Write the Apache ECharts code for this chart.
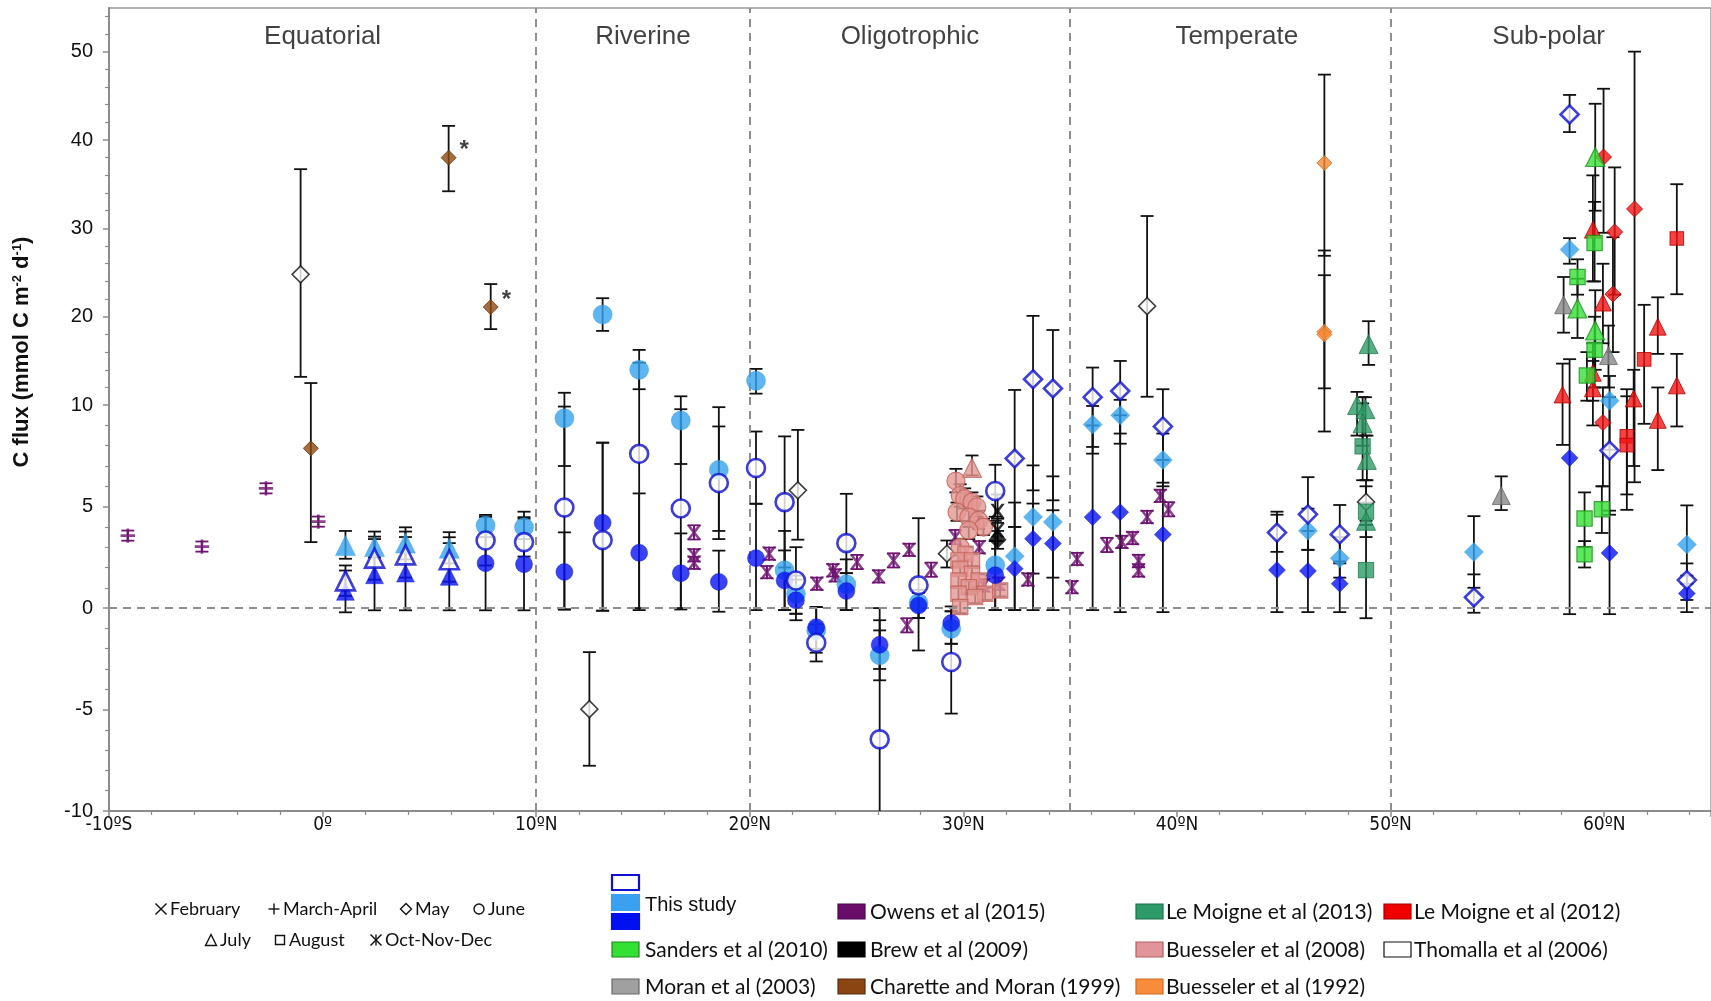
<!DOCTYPE html>
<html>
<head>
<meta charset="utf-8">
<script src="https://cdn.jsdelivr.net/npm/echarts@6/dist/echarts.min.js"></script>
<style>
html, body { margin: 0; background: #fff; }
#chart { width: 1711px; height: 1001px; }
</style>
</head>
<body>
<div id="chart"></div>
<script>
// rows: [latitude (deg, S negative), C flux, error low, error high, month]
const thisStudyLight = [
  [1.07, 3.08, 2.43, 3.8, 'Jul'], [2.43, 3.03, 2.5, 3.77, 'Jul'], [3.88, 3.2, 2.4, 3.98, 'Jul'],
  [5.93, 2.95, 2.2, 3.74, 'Jul'], [7.63, 4.07, 3.5, 4.59, 'Jun'], [9.43, 3.98, 3.4, 4.75, 'Jun'],
  [11.32, 9.35, 7.0, 11.4, 'Jun'], [13.11, 20.25, 18.4, 22.1, 'Jun'], [14.82, 14.0, 11.8, 16.25, 'Jun'],
  [16.77, 9.24, 7.1, 11.0, 'Jun'], [18.55, 6.81, 3.8, 9.9, 'Jun'], [20.29, 12.75, 11.3, 14.1, 'Jun'],
  [21.63, 1.86, -0.1, 3.8, 'Jun'], [22.16, 0.7, -0.28, 1.6, 'Jun'], [23.11, -1.1, -2.2, 0.05, 'Jun'],
  [24.52, 1.17, -0.1, 2.4, 'Jun'], [26.08, -2.33, -3.56, -1.1, 'Jun'], [27.9, 0.25, -0.49, 0.9, 'Jun'],
  [29.43, -1.02, -1.76, -0.16, 'Jun'], [31.49, 2.11, -0.1, 4.3, 'Jun'],
  [32.4, 2.55, -0.1, 5.2, 'May'], [33.26, 4.49, -0.1, 7.03, 'May'], [34.19, 4.24, -0.1, 6.49, 'May'],
  [36.05, 9.04, 7.61, 9.96, 'May'], [37.34, 9.5, 8.6, 10.6, 'May'], [39.34, 7.3, 6.0, 8.6, 'May'],
  [46.13, 3.81, 2.87, 4.9, 'May'], [47.62, 2.45, 1.5, 3.5, 'May'], [53.9, 2.76, 1.0, 4.53, 'May'],
  [58.38, 27.6, 26.0, 28.9, 'May'], [60.25, 10.5, 7.8, 13.3, 'May'], [63.87, 3.13, 1.2, 5.06, 'May']
];
const thisStudyDark = [
  [1.07, 0.82, -0.21, 1.85, 'Jul'], [2.43, 1.64, -0.11, 3.4, 'Jul'], [3.88, 1.72, -0.11, 3.5, 'Jul'],
  [5.93, 1.56, -0.11, 3.2, 'Jul'], [7.63, 2.21, -0.11, 4.5, 'Jun'], [9.43, 2.16, -0.11, 4.4, 'Jun'],
  [11.32, 1.78, -0.07, 3.73, 'Jun'], [13.11, 4.2, -0.13, 8.15, 'Jun'], [14.82, 2.72, -0.1, 5.65, 'Jun'],
  [16.77, 1.72, -0.07, 3.68, 'Jun'], [18.55, 1.29, -0.18, 2.83, 'Jun'], [20.29, 2.46, -0.1, 5.14, 'Jun'],
  [21.63, 1.36, -0.1, 2.84, 'Jun'], [22.16, 0.38, -0.6, 1.4, 'Jun'], [23.11, -0.94, -2.0, 0.05, 'Jun'],
  [24.52, 0.84, -0.1, 1.72, 'Jun'], [26.08, -1.81, -3.0, -0.6, 'Jun'], [27.9, 0.13, -0.49, 0.75, 'Jun'],
  [29.43, -0.74, -1.76, 0.08, 'Jun'], [31.49, 1.62, -0.1, 3.3, 'Jun'],
  [32.4, 1.94, -0.1, 4.0, 'May'], [33.26, 3.42, 1.7, 5.15, 'May'], [34.19, 3.18, 1.5, 4.82, 'May'],
  [36.05, 4.48, -0.1, 9.0, 'May'], [37.34, 4.72, -0.2, 9.5, 'May'], [39.34, 3.62, -0.2, 7.3, 'May'],
  [44.68, 1.87, -0.2, 4.6, 'May'], [46.13, 1.83, -0.2, 3.8, 'May'], [47.62, 1.2, -0.2, 2.2, 'May'],
  [58.38, 7.4, -0.3, 15.2, 'May'], [60.25, 2.71, -0.3, 4.8, 'May'], [63.87, 0.72, -0.2, 1.6, 'May']
];
const thisStudyOpen = [
  [1.07, 1.34, 0.6, 2.1, 'Jul'], [2.43, 2.46, 1.4, 3.52, 'Jul'], [3.88, 2.62, 1.5, 3.77, 'Jul'],
  [5.93, 2.38, 1.3, 3.49, 'Jul'], [7.63, 3.33, 2.1, 4.5, 'Jun'], [9.43, 3.25, 2.54, 4.48, 'Jun'],
  [11.32, 4.95, -0.07, 9.93, 'Jun'], [13.11, 3.35, -0.13, 8.15, 'Jun'], [14.82, 7.6, 0.0, 14.8, 'Jun'],
  [16.77, 4.91, 0.0, 9.8, 'Jun'], [18.55, 6.16, 3.4, 8.95, 'Jun'], [20.29, 6.9, 5.14, 8.7, 'Jun'],
  [21.63, 5.22, 2.0, 8.46, 'Jun'], [22.16, 1.36, -0.28, 3.0, 'Jun'], [23.11, -1.71, -2.63, -0.8, 'Jun'],
  [24.52, 3.2, 1.72, 5.63, 'Jun'], [26.08, -6.47, -12.5, 0.0, 'Jun'], [27.9, 1.12, -2.09, 4.43, 'Jun'],
  [29.43, -2.66, -5.2, -0.16, 'Jun'], [31.49, 5.77, 4.5, 7.06, 'Jun'],
  [32.4, 7.37, 4.0, 11.72, 'May'], [33.26, 12.93, 5.8, 20.1, 'May'], [34.19, 11.88, 5.31, 18.5, 'May'],
  [36.05, 10.9, 7.94, 14.25, 'May'], [37.34, 11.6, 8.1, 15.0, 'May'], [39.34, 8.95, 6.18, 11.8, 'May'],
  [44.68, 3.72, 2.77, 4.75, 'May'], [46.13, 4.62, 2.87, 6.45, 'May'], [47.62, 3.63, 2.3, 5.08, 'May'],
  [53.9, 0.53, -0.23, 1.66, 'May'], [58.38, 42.9, 40.9, 45.1, 'May'], [60.25, 7.76, 4.6, 10.9, 'May'],
  [63.87, 1.38, 0.4, 2.2, 'May']
];
// Owens: [latitude, flux, half error, month]
const owens = [
  [-9.12, 3.57, 0.25, 'MA'], [-5.65, 3.03, 0.25, 'MA'], [-2.65, 5.9, 0.25, 'MA'], [-0.2, 4.26, 0.25, 'MA'],
  [17.39, 3.73, 0.35, 'OND'], [17.39, 2.6, 0.3, 'OND'], [17.39, 2.23, 0.3, 'OND'],
  [20.91, 2.68, 0.3, 'OND'], [20.8, 1.77, 0.3, 'OND'], [23.14, 1.2, 0.3, 'OND'], [23.89, 1.86, 0.3, 'OND'],
  [24.0, 1.61, 0.3, 'OND'], [25.02, 2.27, 0.35, 'OND'], [26.03, 1.56, 0.3, 'OND'], [26.73, 2.35, 0.35, 'OND'],
  [27.46, 2.87, 0.3, 'OND'], [27.36, -0.85, 0.35, 'OND'], [28.49, 1.89, 0.35, 'OND'], [29.62, 3.5, 0.35, 'OND'],
  [30.74, 3.0, 0.3, 'OND'], [30.95, 1.12, 0.3, 'OND'], [31.65, 1.2, 0.3, 'OND'], [33.02, 1.41, 0.3, 'OND'],
  [35.08, 1.03, 0.3, 'OND'], [35.32, 2.42, 0.3, 'OND'], [36.72, 3.11, 0.35, 'OND'], [37.42, 3.26, 0.3, 'OND'],
  [37.92, 3.45, 0.3, 'OND'], [38.2, 2.32, 0.3, 'OND'], [38.2, 1.85, 0.3, 'OND'], [38.6, 4.49, 0.3, 'OND'],
  [39.22, 5.53, 0.3, 'OND'], [39.6, 4.87, 0.35, 'OND']
];
// Charette and Moran: last field marks the starred values
const charette = [
  [-0.55, 7.87, 3.25, 12.5, 'May', ''], [5.9, 38.0, 34.2, 41.6, 'May', '*'], [7.87, 21.1, 18.6, 23.7, 'May', '*']
];
const thomalla = [
  [-1.03, 24.8, 13.2, 36.7, 'May'], [12.49, -4.98, -7.77, -2.17, 'May'], [22.25, 5.8, 3.37, 8.78, 'May'],
  [29.23, 2.68, 2.0, 3.33, 'May'], [38.6, 21.2, 10.95, 31.4, 'May'], [48.85, 5.23, 4.3, 6.0, 'May']
];
const brew = [
  [31.6, 4.78, 4.2, 5.6, 'Feb'], [31.6, 3.83, 3.3, 4.4, 'Feb'], [31.6, 3.37, 2.92, 3.8, 'May']
];
const buesseler2008 = [
  [30.4, 6.91, 6.54, 7.52, 'Jul'],
  [29.65, 6.26, 5.7, 6.86, 'Jun'], [29.85, 5.55, 5.0, 6.1, 'Jun'], [30.06, 5.39, 4.9, 5.9, 'Jun'],
  [30.4, 5.22, 4.8, 5.7, 'Jun'], [30.63, 4.98, 4.5, 5.5, 'Jun'], [29.7, 4.73, 4.3, 5.2, 'Jun'],
  [30.25, 4.48, 4.0, 4.9, 'Jun'], [30.71, 4.32, 3.9, 4.8, 'Jun'], [30.94, 3.99, 3.6, 4.4, 'Jun'],
  [30.25, 3.83, 3.4, 4.3, 'Jun'], [29.85, 3.0, 2.6, 3.4, 'Jun'],
  [30.1, 2.68, 2.4, 3.0, 'Aug'], [29.77, 2.35, 2.05, 2.65, 'Aug'], [30.4, 2.35, 2.05, 2.65, 'Aug'],
  [29.85, 1.94, 1.64, 2.24, 'Aug'], [30.4, 1.69, 1.39, 1.99, 'Aug'], [29.77, 1.36, 1.06, 1.66, 'Aug'],
  [30.71, 1.36, 1.06, 1.66, 'Aug'], [30.25, 1.03, 0.73, 1.33, 'Aug'], [31.72, 0.87, 0.57, 1.17, 'Aug'],
  [29.77, 0.7, 0.4, 1.0, 'Aug'], [31.02, 0.7, 0.4, 1.0, 'Aug'], [30.55, 0.54, 0.24, 0.84, 'Aug'],
  [29.85, 0.05, -0.25, 0.35, 'Aug']
];
const leMoigne2013 = [
  [48.97, 16.9, 14.55, 19.5, 'Jul'], [48.43, 10.0, 8.5, 11.5, 'Jul'], [48.82, 9.8, 8.5, 10.9, 'Jul'],
  [48.69, 9.1, 8.0, 10.2, 'Jul'], [48.69, 7.97, 6.3, 10.9, 'Aug'], [48.89, 7.3, 6.3, 8.5, 'Jul'],
  [48.85, 4.75, 4.1, 6.3, 'Aug'], [48.85, 4.3, 3.5, 5.2, 'Jul'], [48.85, 1.87, -0.5, 4.1, 'Aug']
];
const sanders = [
  [58.75, 24.5, 22.5, 26.5, 'Aug'], [58.75, 20.95, 17.6, 24.3, 'Jul'], [59.58, 38.07, 32.0, 44.1, 'Jul'],
  [59.55, 28.34, 24.0, 33.0, 'Aug'], [59.58, 18.44, 14.0, 23.0, 'Jul'], [59.55, 16.27, 12.0, 20.0, 'Aug'],
  [59.19, 13.35, 10.5, 16.0, 'Aug'], [59.08, 4.41, 3.0, 5.7, 'Aug'], [59.08, 2.65, 2.0, 3.3, 'Aug'],
  [59.89, 4.87, 3.7, 6.0, 'Aug']
];
const moran = [
  [58.1, 21.35, 18.2, 24.5, 'Jul'], [60.2, 15.6, 12.0, 19.0, 'Jul'], [55.18, 5.54, 4.83, 6.49, 'Jul']
];
const leMoigne2012 = [
  [58.05, 11.2, 8.04, 14.7, 'Jul'], [59.97, 38.07, 29.5, 45.8, 'May'], [59.47, 29.85, 24.0, 36.0, 'Jul'],
  [60.49, 29.59, 22.5, 36.9, 'May'], [61.42, 32.2, 6.2, 50.0, 'May'], [63.4, 28.86, 22.55, 35.0, 'Aug'],
  [60.41, 22.56, 16.0, 29.0, 'May'], [59.94, 21.6, 17.0, 26.0, 'Jul'], [59.47, 13.65, 10.5, 17.0, 'Jul'],
  [59.47, 11.9, 9.0, 15.0, 'Jul'], [61.87, 15.18, 9.08, 21.35, 'Aug'], [62.51, 18.87, 15.8, 22.2, 'Jul'],
  [63.4, 12.23, 8.95, 15.8, 'Jul'], [62.51, 9.27, 6.8, 12.0, 'Jul'], [61.38, 10.75, 7.0, 14.0, 'Jul'],
  [59.94, 9.14, 6.0, 12.0, 'May'], [61.06, 8.47, 5.6, 11.8, 'Aug'], [61.06, 8.03, 4.84, 11.0, 'Aug']
];
const buesseler1992 = [
  [46.9, 37.4, 26.9, 47.4, 'May'], [46.9, 18.3, 11.9, 24.7, 'May'], [46.9, 18.0, 8.7, 27.5, 'May']
];

const regionNames = ['Equatorial', 'Riverine', 'Oligotrophic', 'Temperate', 'Sub-polar'];
const regionCenters = [0, 15, 27.5, 42.8, 57.4];
const regionBounds = [10, 20, 35, 50];
const xTickLabels = ['-10ºS', '0º', '10ºN', '20ºN', '30ºN', '40ºN', '50ºN', '60ºN'];
const yTickLabels = [-10, -5, 0, 5, 10, 20, 30, 40, 50];
const yMinorTicks = [-9, -8, -7, -6, -4, -3, -2, -1, 1, 2, 3, 4, 6, 7, 8, 9,
  12, 14, 16, 18, 22, 24, 26, 28, 32, 34, 36, 38, 42, 44, 46, 48, 52, 54];

// the y axis is stretched below 10 and squeezed above it
const BREAK = 10, SQUEEZE = 0.4355, Y_MIN = -10, Y_MAX = 29.57;
function ty(v) { return v <= BREAK ? v : BREAK + (v - BREAK) * SQUEEZE; }
function fromT(t) { return t <= BREAK ? t : BREAK + (t - BREAK) / SQUEEZE; }

const X_PATH = 'M0,0L2.2,0L5,3.6L7.8,0L10,0L6.2,5L10,10L7.8,10L5,6.4L2.2,10L0,10L3.8,5Z';
const MONTH_SYMBOL = {
  Feb: 'path://' + X_PATH,
  MA: 'path://M4.1,0L5.9,0L5.9,4.1L10,4.1L10,5.9L5.9,5.9L5.9,10L4.1,10L4.1,5.9L0,5.9L0,4.1L4.1,4.1Z',
  May: 'diamond', Jun: 'circle', Jul: 'triangle', Aug: 'rect',
  OND: 'path://' + X_PATH + 'M4.3,0L5.7,0L5.7,10L4.3,10Z'
};
const FONT = '"Liberation Sans", Arial, sans-serif';

function errorBars(rows, color, z) {
  return {
    type: 'custom', silent: true, z: z,
    data: rows.map(r => [r[0], ty(r[2]), ty(r[3])]),
    renderItem: function (params, api) {
      const x = api.value(0), lo = api.value(1), hi = api.value(2);
      const a = api.coord([x, Math.max(lo, Y_MIN)]);
      const b = api.coord([x, hi]);
      const st = { stroke: color, lineWidth: 1.8 };
      const kids = [
        { type: 'line', shape: { x1: a[0], y1: a[1], x2: b[0], y2: b[1] }, style: st },
        { type: 'line', shape: { x1: b[0] - 6.5, y1: b[1], x2: b[0] + 6.5, y2: b[1] }, style: st }
      ];
      if (lo >= Y_MIN) kids.push({ type: 'line', shape: { x1: a[0] - 6.5, y1: a[1], x2: a[0] + 6.5, y2: a[1] }, style: st });
      return { type: 'group', children: kids };
    }
  };
}

function markers(rows, style, size, z) {
  return {
    type: 'scatter', z: z, itemStyle: style,
    data: rows.map(r => {
      const m = r[4];
      const s = m === 'Aug' ? size * 0.85 : (m === 'Jul' ? size * 1.05 : (m === 'OND' || m === 'MA' || m === 'Feb' ? size * 0.8 : size));
      const item = { value: [r[0], ty(r[1])], symbol: MONTH_SYMBOL[m], symbolSize: s };
      if (r[5]) item.label = { show: true, formatter: r[5], position: 'right', distance: 3, offset: [0, -7],
        fontSize: 24, fontWeight: 'bold', color: '#111', fontFamily: FONT };
      return item;
    })
  };
}

const owensRows = owens.map(r => [r[0], r[1], r[1] - r[2], r[1] + r[2], r[3]]);

const styles = {
  open: { color: '#fff', borderColor: '#0c0cd2', borderWidth: 2.6 },
  light: { color: '#35a3ef', borderColor: '#2e95de', borderWidth: 0.5 },
  dark: { color: '#0714f2', borderColor: '#0a10d0', borderWidth: 0.5 },
  owens: { color: '#6e1470' },
  charette: { color: '#8f4a12', borderColor: '#6b360c', borderWidth: 1 },
  thomalla: { color: '#fff', borderColor: '#111', borderWidth: 1.6 },
  brew: { color: '#000' },
  b2008: { color: '#e39792', borderColor: '#c4605a', borderWidth: 1.2 },
  b1992: { color: '#f58a35', borderColor: '#d46c1e', borderWidth: 1 },
  lm2013: { color: '#2e9a66', borderColor: '#1f7a4e', borderWidth: 1 },
  sanders: { color: '#37e037', borderColor: '#1f8f1f', borderWidth: 1.2 },
  moran: { color: '#878787', borderColor: '#666', borderWidth: 1 },
  lm2012: { color: '#f21414', borderColor: '#b00000', borderWidth: 1 }
};

const series = [
  {
    type: 'scatter', symbolSize: 0, silent: true, z: 1,
    data: regionCenters.map(c => [c, Y_MAX - 1.4]),
    label: { show: true, position: 'inside', formatter: p => regionNames[p.dataIndex],
      fontSize: 26, color: '#111', textBorderWidth: 0, fontFamily: FONT },
    markLine: {
      silent: true, symbol: 'none', label: { show: false },
      lineStyle: { type: [8, 6], color: '#8f8f8f', width: 2 },
      data: regionBounds.map(b => ({ xAxis: b })).concat([{ yAxis: 0 }])
    }
  },
  errorBars(owensRows, '#6e1470', 2),
  errorBars(charette, '#111', 2), errorBars(thomalla, '#111', 2), errorBars(brew, '#111', 2),
  errorBars(buesseler2008, '#111', 2), errorBars(leMoigne2013, '#111', 2), errorBars(sanders, '#111', 2),
  errorBars(moran, '#111', 2), errorBars(leMoigne2012, '#111', 2), errorBars(buesseler1992, '#111', 2),
  errorBars(thisStudyLight, '#111', 2), errorBars(thisStudyDark, '#111', 2), errorBars(thisStudyOpen, '#111', 2),
  markers(owensRows, styles.owens, 18, 4),
  markers(charette, styles.charette, 15, 4),
  markers(thomalla, styles.thomalla, 17, 4),
  markers(buesseler2008, styles.b2008, 18, 4),
  markers(brew, styles.brew, 18, 5),
  markers(leMoigne2013, styles.lm2013, 18, 4),
  markers(buesseler1992, styles.b1992, 15, 4),
  markers(moran, styles.moran, 17, 4),
  markers(leMoigne2012, styles.lm2012, 16, 5),
  markers(sanders, styles.sanders, 18, 5),
  markers(thisStudyLight, styles.light, 19, 6),
  markers(thisStudyDark, styles.dark, 17, 7),
  markers(thisStudyOpen, styles.open, 18, 8)
];

// legend and month key
const legendRows = [
  [null, 'Owens et al (2015)', 'Le Moigne et al (2013)', 'Le Moigne et al (2012)'],
  ['Sanders et al (2010)', 'Brew et al (2009)', 'Buesseler et al (2008)', 'Thomalla et al (2006)'],
  ['Moran et al (2003)', 'Charette and Moran (1999)', 'Buesseler et al (1992)', null]
];
const legendFill = {
  'Owens et al (2015)': ['#6a0d6a', '#4a074a'], 'Le Moigne et al (2013)': ['#2e9a6a', '#1d6e4a'],
  'Le Moigne et al (2012)': ['#f00000', '#a00000'], 'Sanders et al (2010)': ['#33e033', '#1a8a1a'],
  'Brew et al (2009)': ['#000', '#000'], 'Buesseler et al (2008)': ['#e0959a', '#b06060'],
  'Thomalla et al (2006)': ['#fff', '#111'], 'Moran et al (2003)': ['#a0a0a0', '#666'],
  'Charette and Moran (1999)': ['#8b4513', '#5a2d0c'], 'Buesseler et al (1992)': ['#f68c3c', '#d06a20']
};
const monthKey = [
  [['February', 'x'], ['March-April', 'plus'], ['May', 'diamond'], ['June', 'circle']],
  [['July', 'triangle'], ['August', 'square'], ['Oct-Nov-Dec', 'star']]
];

function keyGlyph(kind, cx, cy) {
  const r = 5.5;
  const st = { fill: 'none', stroke: '#111', lineWidth: 1.4 };
  const ln = (x1, y1, x2, y2) => ({ type: 'line', shape: { x1: x1, y1: y1, x2: x2, y2: y2 }, style: st });
  if (kind === 'x') return [ln(cx - r, cy - r, cx + r, cy + r), ln(cx + r, cy - r, cx - r, cy + r)];
  if (kind === 'plus') return [ln(cx, cy - r, cx, cy + r), ln(cx - r, cy, cx + r, cy)];
  if (kind === 'star') return [ln(cx - r, cy - r, cx + r, cy + r), ln(cx + r, cy - r, cx - r, cy + r), ln(cx, cy - r, cx, cy + r)];
  if (kind === 'circle') return [{ type: 'circle', shape: { cx: cx, cy: cy, r: r - 0.5 }, style: st }];
  if (kind === 'square') return [{ type: 'rect', shape: { x: cx - r + 1, y: cy - r + 1, width: 2 * r - 2, height: 2 * r - 2 }, style: st }];
  if (kind === 'diamond') return [{ type: 'polygon', shape: { points: [[cx, cy - r], [cx + r, cy], [cx, cy + r], [cx - r, cy]] }, style: st }];
  return [{ type: 'polygon', shape: { points: [[cx, cy - r], [cx + r, cy + r], [cx - r, cy + r]] }, style: st }];
}

const graphic = [];
const colBox = [612, 838, 1136, 1384], colText = [645, 870, 1166, 1414], rowY = [912, 950, 987];
legendRows.forEach((row, ri) => row.forEach((name, ci) => {
  if (!name) return;
  const f = legendFill[name];
  graphic.push({ type: 'rect', shape: { x: colBox[ci], y: rowY[ri] - 8, width: 27, height: 15 },
    style: { fill: f[0], stroke: f[1], lineWidth: 1.2 } });
  graphic.push({ type: 'text', x: colText[ci], y: rowY[ri],
    style: { text: name, font: '21px Lato', fill: '#111', verticalAlign: 'middle' } });
}));
[['#fff', '#1010d0', 875], ['#3aa0f0', '#3aa0f0', 895], ['#0010f0', '#0010f0', 914]].forEach(b => {
  graphic.push({ type: 'rect', shape: { x: 612, y: b[2], width: 27, height: 15 },
    style: { fill: b[0], stroke: b[1], lineWidth: 2.2 } });
});
graphic.push({ type: 'text', x: 645, y: 905,
  style: { text: 'This study', font: '20px "Liberation Sans", Arial', fill: '#111', verticalAlign: 'middle' } });

const keyX = [[161, 274, 406, 479], [211, 280, 376]], keyY = [909, 940];
monthKey.forEach((row, ri) => row.forEach((k, ki) => {
  const cx = keyX[ri][ki], cy = keyY[ri];
  keyGlyph(k[1], cx, cy).forEach(g => graphic.push(g));
  graphic.push({ type: 'text', x: cx + 9, y: cy,
    style: { text: k[0], font: '18px Lato', fill: '#111', verticalAlign: 'middle' } });
}));
graphic.push({ type: 'text', x: 22, y: 352, rotation: Math.PI / 2,
  style: { text: 'C flux (mmol C m{s|-2} d{s|-1})', font: 'bold 22px "Liberation Sans", Arial', fill: '#111',
    align: 'center', verticalAlign: 'middle',
    rich: { s: { fontSize: 13, fontWeight: 'bold', fontFamily: FONT, verticalAlign: 'top', fill: '#111' } } } });

const chart = echarts.init(document.getElementById('chart'));
chart.setOption({
  animation: false,
  backgroundColor: '#fff',
  grid: { left: 109, right: 0, top: 8, bottom: 190, show: true, borderColor: '#9a9a9a', borderWidth: 1.5 },
  xAxis: {
    type: 'value', min: -10, max: 65, interval: 10,
    axisLine: { onZero: false, lineStyle: { color: '#8c8c8c', width: 2 } },
    axisTick: { length: 6, lineStyle: { color: '#8c8c8c', width: 1.5 } },
    minorTick: { show: true, splitNumber: 5, length: 4, lineStyle: { color: '#8c8c8c', width: 1.2 } },
    axisLabel: { formatter: v => xTickLabels[Math.round((v + 10) / 10)] || '', showMaxLabel: false,
      fontSize: 19, color: '#111', margin: 5, fontFamily: '"DejaVu Sans Condensed", "Liberation Sans", Arial' },
    splitLine: { show: false }
  },
  yAxis: [
    {
      type: 'value', min: Y_MIN, max: Y_MAX, position: 'left',
      axisLine: { show: true, onZero: false, lineStyle: { color: '#8c8c8c', width: 2 } },
      axisTick: { show: true, customValues: yTickLabels.map(ty), length: 6, lineStyle: { color: '#8c8c8c', width: 1.5 } },
      axisLabel: { customValues: yTickLabels.map(ty), formatter: v => String(Math.round(fromT(v))),
        fontSize: 20, color: '#111', margin: 16, fontFamily: FONT },
      splitLine: { show: false }
    },
    {
      type: 'value', min: Y_MIN, max: Y_MAX, position: 'left', offset: 0,
      axisLine: { show: false, onZero: false },
      axisTick: { show: true, customValues: yMinorTicks.map(ty), length: 4, lineStyle: { color: '#8c8c8c', width: 1.2 } },
      axisLabel: { show: false }, splitLine: { show: false }
    }
  ],
  graphic: graphic,
  series: series
});
</script>
</body>
</html>
